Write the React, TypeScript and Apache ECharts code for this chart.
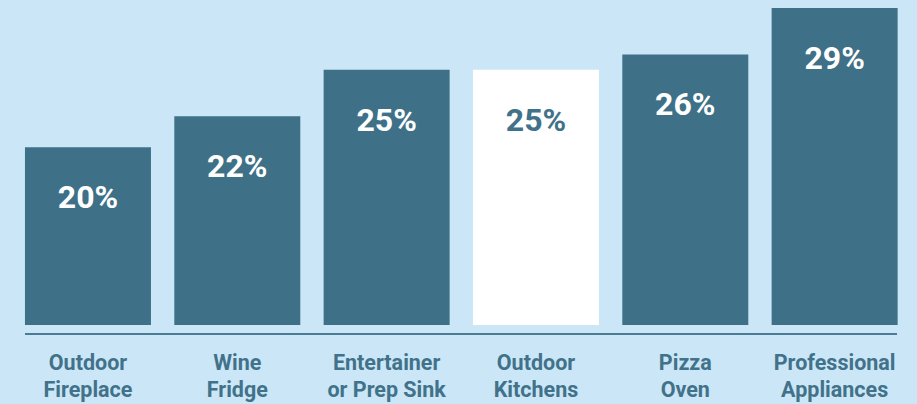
import React, { useEffect, useRef } from "react";
import * as echarts from "echarts";

const categories = [
  "Outdoor\nFireplace",
  "Wine\nFridge",
  "Entertainer\nor Prep Sink",
  "Outdoor\nKitchens",
  "Pizza\nOven",
  "Professional\nAppliances",
];
const values = [20, 22, 25, 25, 26, 29];
const highlightIndex = 3;

const BG = "#cbe7f7";
const BAR = "#3e7087";
const TEXT = "#41728a";

export default function App() {
  const ref = useRef<HTMLDivElement>(null);
  useEffect(() => {
    if (!ref.current) return;
    const chart = echarts.init(ref.current, null, { renderer: "svg" });
    chart.setOption({
      animation: false,
      backgroundColor: BG,
      grid: { left: 13.3, right: 7.7, top: 8, bottom: 79, containLabel: false },
      xAxis: {
        type: "category",
        data: categories,
        axisLine: { show: false },
        axisTick: { show: false },
        axisLabel: {
          interval: 0,
          margin: 24,
          color: TEXT,
          fontFamily: "Roboto",
          fontWeight: "bold",
          fontSize: 21.5,
          lineHeight: 27,
        },
      },
      yAxis: {
        type: "value",
        min: 8.5,
        max: 29,
        show: false,
        splitLine: { show: false },
      },
      graphic: [
        {
          type: "line",
          shape: { x1: 25, y1: 334, x2: 897, y2: 334 },
          style: { stroke: "#4a7d94", lineWidth: 2 },
        },
      ],
      series: [
        {
          type: "bar",
          barWidth: 126,
          data: values.map((v, i) => ({
            value: v,
            itemStyle: { color: i === highlightIndex ? "#ffffff" : BAR },
            label: { color: i === highlightIndex ? TEXT : "#ffffff" },
          })),
          label: {
            show: true,
            position: ["50%", 50],
            align: "center",
            verticalAlign: "middle",
            formatter: "{c}%",
            fontFamily: "Roboto",
            fontWeight: "bold",
            fontSize: 32,
          },
        },
      ],
    });
    return () => chart.dispose();
  }, []);
  return (
    <div
      ref={ref}
      style={{ position: "fixed", left: 0, top: 0, width: 917, height: 404 }}
    />
  );
}
